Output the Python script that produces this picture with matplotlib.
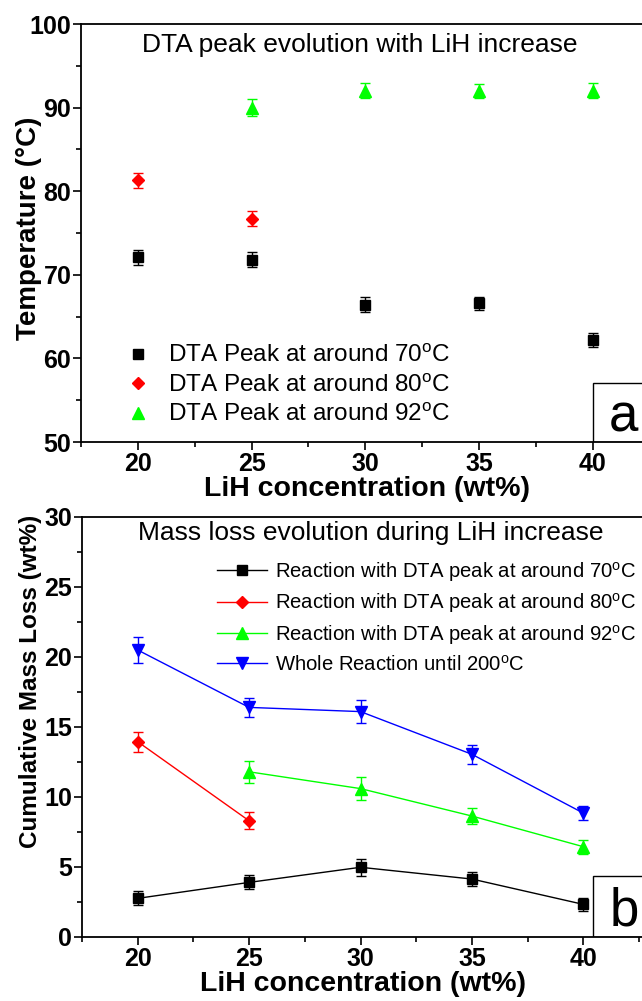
import matplotlib
matplotlib.use('Agg')
import matplotlib.pyplot as plt
from matplotlib.patches import Rectangle
from matplotlib.ticker import MultipleLocator

plt.rcParams['font.family'] = ['Liberation Sans', 'DejaVu Sans']
plt.rcParams['mathtext.fontset'] = 'custom'
plt.rcParams['mathtext.rm'] = 'Liberation Sans'

# =======  DATA  ======= #
lih = [20, 25, 30, 35, 40]

# (a) DTA peak temperatures (degC)
peak70_x = [20, 25, 30, 35, 40]
peak70_T = [72.1, 71.8, 66.4, 66.6, 62.2]
peak70_err = [0.9, 0.9, 0.9, 0.8, 0.8]
peak80_x = [20, 25]
peak80_T = [81.3, 76.7]
peak80_err = [0.9, 0.9]
peak92_x = [25, 30, 35, 40]
peak92_T = [90.0, 92.0, 92.0, 92.0]
peak92_err = [1.0, 0.9, 0.8, 0.9]

# (b) cumulative mass loss (wt%)
loss70_x = [20, 25, 30, 35, 40]
loss70 = [2.76, 3.9, 4.98, 4.14, 2.33]
loss70_err = [0.5, 0.5, 0.6, 0.5, 0.45]
loss80_x = [20, 25]
loss80 = [13.95, 8.3]
loss80_err = [0.7, 0.6]
loss92_x = [25, 30, 35, 40]
loss92 = [11.8, 10.6, 8.64, 6.45]
loss92_err = [0.77, 0.8, 0.6, 0.5]
losstot_x = [20, 25, 30, 35, 40]
losstot = [20.5, 16.4, 16.1, 13.05, 8.85]
losstot_err = [0.9, 0.7, 0.8, 0.7, 0.5]

deg = r'$^\mathregular{o}$C'


def style_axis(ax, ymajor, yminor):
    ax.xaxis.set_major_locator(MultipleLocator(5))
    ax.xaxis.set_minor_locator(MultipleLocator(2.5))
    ax.yaxis.set_major_locator(MultipleLocator(ymajor))
    ax.yaxis.set_minor_locator(MultipleLocator(yminor))
    ax.tick_params(which='major', direction='out', length=6, width=1.2,
                   labelsize=18, pad=1, top=False, right=False)
    ax.tick_params(which='minor', direction='out', length=3.5, width=1.2,
                   top=False, right=False)
    for lab in ax.get_xticklabels() + ax.get_yticklabels():
        lab.set_fontweight('bold')
    for sp in ax.spines.values():
        sp.set_linewidth(1.3)


W, H = 642, 1001
fig = plt.figure(figsize=(W / 100, H / 100), dpi=100)

# ---------- (a) ----------
ax1 = fig.add_axes([81 / W, (H - 442) / H, (654 - 81) / W, 418 / H])
ekw = dict(ls='none', capsize=3.5, elinewidth=1, capthick=1)
ax1.errorbar(peak70_x, peak70_T, yerr=peak70_err, marker='s', ms=6.5,
             color='black', label='DTA Peak at around 70' + deg, **ekw)
ax1.errorbar(peak80_x, peak80_T, yerr=peak80_err, marker='D', ms=6,
             color='red', label='DTA Peak at around 80' + deg, **ekw)
ax1.errorbar(peak92_x, peak92_T, yerr=peak92_err, marker='^', ms=8,
             color='#00ff00', label='DTA Peak at around 92' + deg, **ekw)
ax1.set_xlim(17.5, 42.7)
ax1.set_ylim(50, 100)
style_axis(ax1, 10, 5)
ax1.set_xticks(lih)
ax1.set_xlabel('LiH concentration (wt%)', fontsize=20.5, fontweight='bold',
               labelpad=0)
ax1.set_ylabel('Temperature (°C)', fontsize=20, fontweight='bold')
ax1.yaxis.set_label_coords(-0.068, 0.512)
ax1.text(0.487, 0.95, 'DTA peak evolution with LiH increase', fontsize=19,
         ha='center', va='center', transform=ax1.transAxes)
handles, labels = ax1.get_legend_handles_labels()
handles = [h[0] for h in handles]
ax1.legend(handles, labels, loc='upper left', bbox_to_anchor=(0.078, 0.234),
           frameon=False, fontsize=17.5, handlelength=1.0, handletextpad=0.73,
           labelspacing=0.28, borderpad=0, borderaxespad=0)
ax1.add_patch(Rectangle((40, 50), 5, 7.06, fill=False, lw=1, ec='black'))
ax1.text(41.35, 51.2, 'a', fontsize=38, ha='center', va='baseline')

# ---------- (b) ----------
ax2 = fig.add_axes([82 / W, (H - 937) / H, (643.5 - 82) / W, 420 / H])
lkw = dict(lw=1, capsize=3.5, elinewidth=1, capthick=1)
ax2.errorbar(loss70_x, loss70, yerr=loss70_err, marker='s', ms=6.5,
             color='black', label='Reaction with DTA peak at around 70' + deg,
             **lkw)
ax2.errorbar(loss80_x, loss80, yerr=loss80_err, marker='D', ms=6,
             color='red', label='Reaction with DTA peak at around 80' + deg,
             **lkw)
ax2.errorbar(loss92_x, loss92, yerr=loss92_err, marker='^', ms=8,
             color='#00ff00', label='Reaction with DTA peak at around 92' + deg,
             **lkw)
ax2.errorbar(losstot_x, losstot, yerr=losstot_err, marker='v', ms=8,
             color='blue', label='Whole Reaction until 200' + deg, **lkw)
ax2.set_xlim(17.5, 42.7)
ax2.set_ylim(0, 30)
style_axis(ax2, 5, 2.5)
ax2.set_xticks(lih)
ax2.set_xlabel('LiH concentration (wt%)', fontsize=20.5, fontweight='bold',
               labelpad=0)
ax2.set_ylabel('Cumulative Mass Loss (wt%)', fontsize=17.5, fontweight='bold')
ax2.yaxis.set_label_coords(-0.072, 0.608)
ax2.text(0.515, 0.962, 'Mass loss evolution during LiH increase',
         fontsize=19, ha='center', va='center', transform=ax2.transAxes)
handles, labels = ax2.get_legend_handles_labels()
handles = [h[0] for h in handles]
ax2.legend(handles, labels, loc='upper left', bbox_to_anchor=(0.24, 0.898),
           frameon=False, fontsize=14.6, handlelength=2.5, handletextpad=0.35,
           labelspacing=0.37, borderpad=0, borderaxespad=0)
ax2.add_patch(Rectangle((40.45, 0), 5, 4.36, fill=False, lw=1, ec='black'))
ax2.text(41.85, 0.8, 'b', fontsize=38, ha='center', va='baseline')

fig.savefig('out.png', dpi=100)
